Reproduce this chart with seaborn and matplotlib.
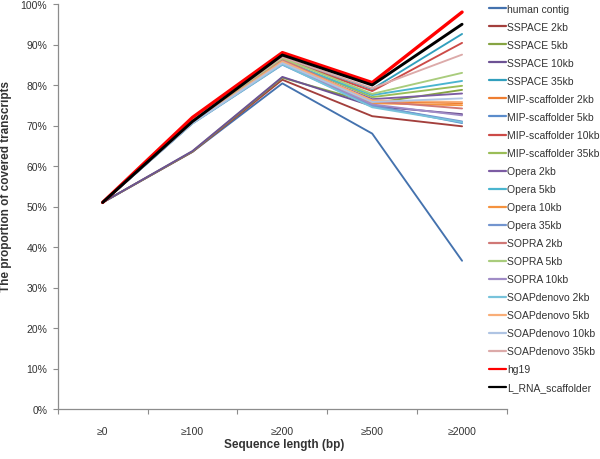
import pandas as pd
import matplotlib
matplotlib.use("Agg")
import matplotlib.pyplot as plt
from matplotlib.ticker import PercentFormatter, FixedLocator
import seaborn as sns

# ─────────────────────────────────────────────
# Data (percent of covered transcripts)
# ─────────────────────────────────────────────
lengths = ["≥0", "≥100", "≥200", "≥500", "≥2000"]

human_contig = [51.0, 63.5, 80.4, 68.0, 36.6]
sspace_2kb = [51.0, 63.5, 81.3, 72.3, 69.8]
sspace_5kb = [51.0, 63.6, 81.8, 75.5, 78.8]
sspace_10kb = [51.0, 63.7, 82.0, 74.8, 72.8]
sspace_35kb = [51.0, 70.8, 86.8, 79.0, 92.6]
mip_2kb = [51.0, 71.2, 86.0, 76.0, 75.5]
mip_5kb = [51.0, 70.6, 85.2, 75.0, 70.6]
mip_10kb = [51.0, 71.0, 86.5, 78.5, 90.4]
mip_35kb = [51.0, 70.9, 86.2, 77.0, 79.8]
opera_2kb = [51.0, 70.7, 85.5, 76.5, 77.9]
opera_5kb = [51.0, 70.8, 86.0, 77.5, 81.0]
opera_10kb = [51.0, 70.9, 85.6, 75.5, 75.0]
opera_35kb = [51.0, 70.5, 85.0, 74.8, 71.0]
sopra_2kb = [51.0, 71.0, 86.3, 76.0, 74.2]
sopra_5kb = [51.0, 71.1, 86.6, 77.8, 83.0]
sopra_10kb = [51.0, 70.6, 85.3, 75.2, 72.5]
soap_2kb = [51.0, 70.5, 85.1, 74.5, 70.8]
soap_5kb = [51.0, 70.7, 85.8, 76.2, 75.8]
soap_10kb = [51.0, 70.6, 85.4, 75.8, 76.7]
soap_35kb = [51.0, 71.2, 86.9, 79.2, 87.5]
hg19 = [51.0, 72.0, 88.0, 80.6, 98.0]
l_rna = [51.0, 71.0, 87.4, 80.0, 95.0]

series = [
    ("human contig", human_contig, "#4472AE"),
    ("SSPACE 2kb", sspace_2kb, "#A33F3C"),
    ("SSPACE 5kb", sspace_5kb, "#86A443"),
    ("SSPACE 10kb", sspace_10kb, "#6D5294"),
    ("SSPACE 35kb", sspace_35kb, "#319FBD"),
    ("MIP-scaffolder 2kb", mip_2kb, "#EE7E31"),
    ("MIP-scaffolder 5kb", mip_5kb, "#5B8CCB"),
    ("MIP-scaffolder 10kb", mip_10kb, "#CC4A47"),
    ("MIP-scaffolder 35kb", mip_35kb, "#9ABD57"),
    ("Opera 2kb", opera_2kb, "#7C5CA3"),
    ("Opera 5kb", opera_5kb, "#4AB5CF"),
    ("Opera 10kb", opera_10kb, "#F5923F"),
    ("Opera 35kb", opera_35kb, "#7395CF"),
    ("SOPRA 2kb", sopra_2kb, "#D07876"),
    ("SOPRA 5kb", sopra_5kb, "#A9CC7C"),
    ("SOPRA 10kb", sopra_10kb, "#A08CC6"),
    ("SOAPdenovo 2kb", soap_2kb, "#78C3DB"),
    ("SOAPdenovo 5kb", soap_5kb, "#F9AE78"),
    ("SOAPdenovo 10kb", soap_10kb, "#AFC4E3"),
    ("SOAPdenovo 35kb", soap_35kb, "#DCAAA9"),
    ("hg19", hg19, "#FF0000"),
    ("L_RNA_scaffolder", l_rna, "#000000"),
]

sns.set_theme(style="white")
plt.rcParams["font.family"] = ["Liberation Sans", "DejaVu Sans"]
text_col = "#333333"
axis_col = "#8C8C8C"

fig = plt.figure(figsize=(6, 4.6), dpi=100)
ax = fig.add_axes([57.7 / 600, 1 - 410 / 460, 449.3 / 600, 405 / 460])

for name, vals, col in series:
    df = pd.DataFrame({"length": lengths, "pct": [v / 100 for v in vals]})
    if name == "hg19":
        lw = 2.4
    elif name == "L_RNA_scaffolder":
        lw = 2.1
    else:
        lw = 1.35
    sns.lineplot(data=df, x="length", y="pct", color=col, linewidth=lw,
                 label=name, ax=ax, sort=False)

ax.set_xlim(-0.5, 4.5)
ax.set_ylim(0, 1)
ax.yaxis.set_major_locator(FixedLocator([i / 10 for i in range(11)]))
ax.yaxis.set_major_formatter(PercentFormatter(1.0, decimals=0))
ax.xaxis.set_minor_locator(FixedLocator([-0.5, 0.5, 1.5, 2.5, 3.5, 4.5]))

for s in ["top", "right"]:
    ax.spines[s].set_visible(False)
for s in ["left", "bottom"]:
    ax.spines[s].set_color(axis_col)
    ax.spines[s].set_linewidth(0.9)

ax.tick_params(axis="y", which="major", left=True, length=3.5, width=0.8,
               color=axis_col, labelsize=7.5, labelcolor=text_col, pad=4)
ax.tick_params(axis="x", which="major", bottom=False, length=0,
               labelsize=7.5, labelcolor=text_col, pad=12)
ax.tick_params(axis="x", which="minor", bottom=True, length=3.5, width=0.8,
               color=axis_col)

ax.set_ylabel("The proportion of covered transcripts", fontsize=8.5,
              fontweight="bold", color=text_col)
ax.yaxis.set_label_coords(-0.102, 0.551)
ax.set_xlabel("Sequence length (bp)", fontsize=8.5, fontweight="bold",
              color=text_col)
ax.xaxis.set_label_coords(0.503, -0.072)

leg = ax.legend(loc="upper left", bbox_to_anchor=(489 / 600, 1 - 5 / 460),
                bbox_transform=fig.transFigure, frameon=False, fontsize=7.5,
                handlelength=1.6, handletextpad=0.15, labelspacing=0.77,
                borderpad=0, borderaxespad=0)
for t in leg.get_texts():
    t.set_color(text_col)
for h in leg.get_lines():
    h.set_linewidth(1.6)

fig.savefig("out.png", dpi=100)
